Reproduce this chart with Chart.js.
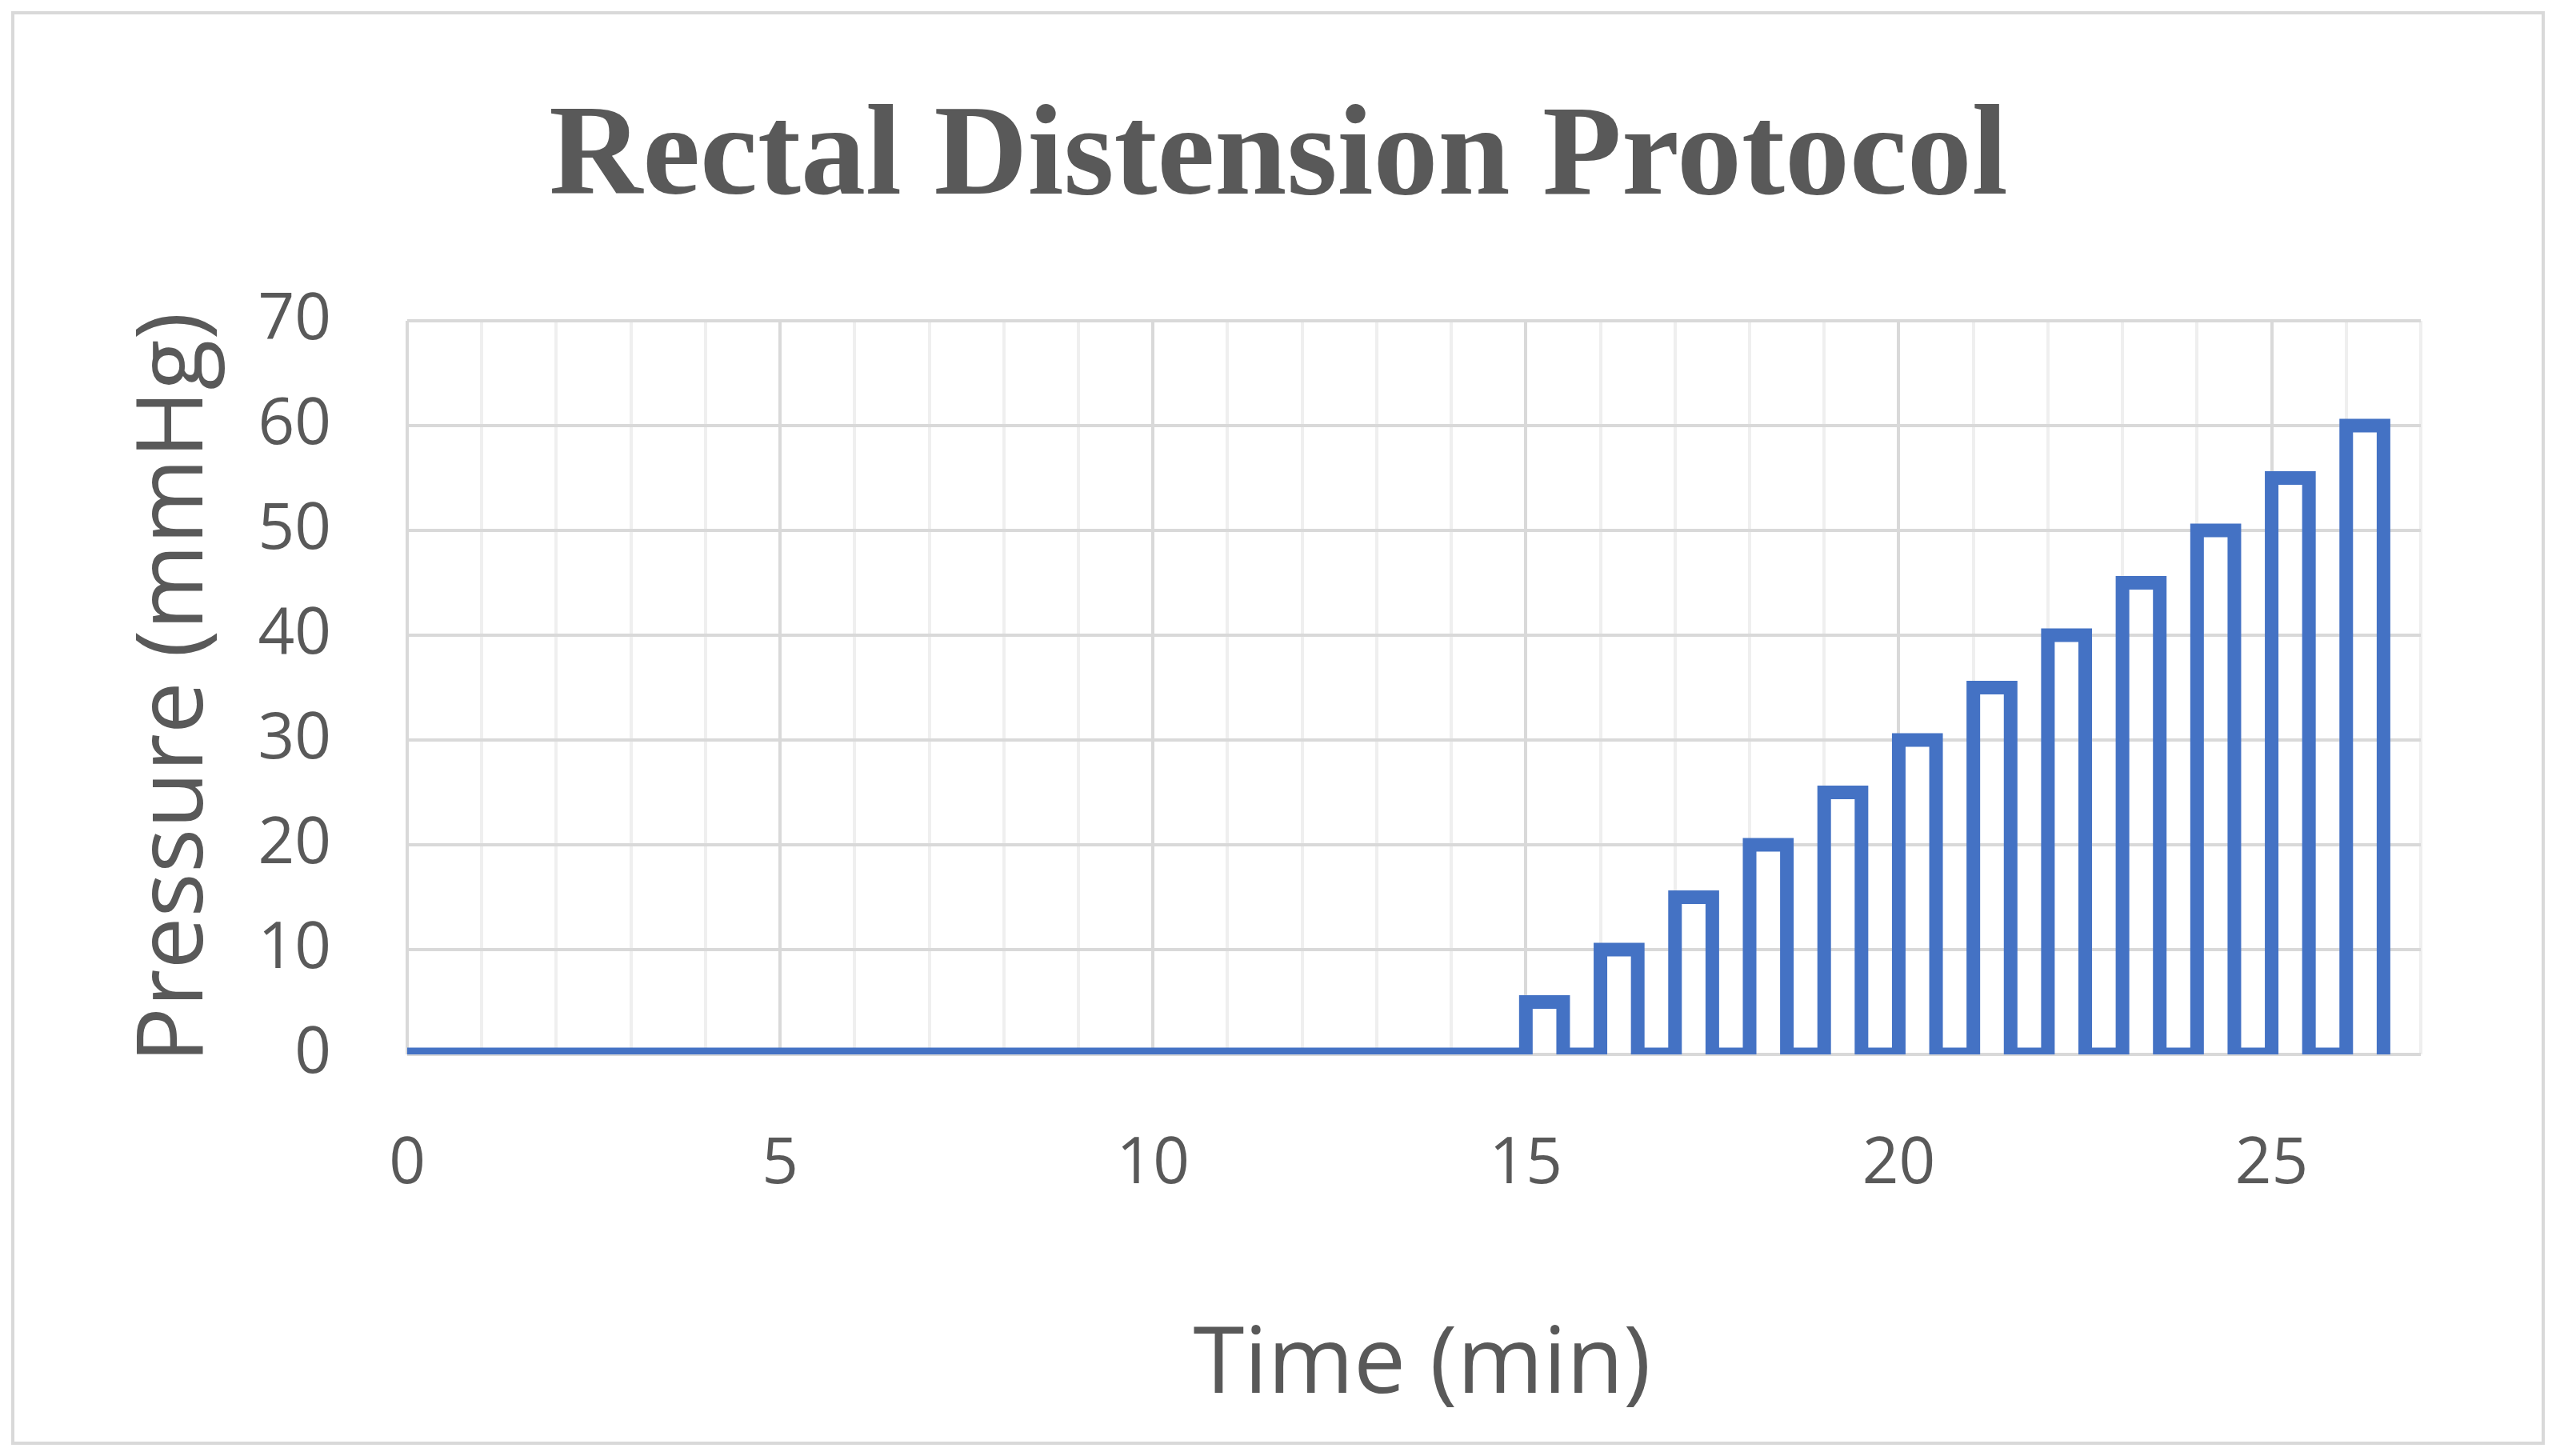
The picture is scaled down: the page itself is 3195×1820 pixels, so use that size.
<!DOCTYPE html>
<html><head><meta charset="utf-8">
<script src="https://cdn.jsdelivr.net/npm/chart.js@4"></script>
<style>html,body{margin:0;padding:0;background:#fff}#c{display:block}</style>
</head><body>
<div style="width:3195px;height:1820px"><canvas id="c"></canvas></div>
<script>
const titleText = "Rectal Distension Protocol";
const xTitle = "Time (min)";
const yTitle = "Pressure (mmHg)";
const times =     [0, 15, 15, 15.5, 15.5, 16, 16, 16.5, 16.5, 17, 17, 17.5, 17.5, 18, 18, 18.5, 18.5, 19, 19, 19.5, 19.5, 20, 20, 20.5, 20.5, 21, 21, 21.5, 21.5, 22, 22, 22.5, 22.5, 23, 23, 23.5, 23.5, 24, 24, 24.5, 24.5, 25, 25, 25.5, 25.5, 26, 26, 26.5, 26.5];
const pressures = [0, 0, 5, 5, 0, 0, 10, 10, 0, 0, 15, 15, 0, 0, 20, 20, 0, 0, 25, 25, 0, 0, 30, 30, 0, 0, 35, 35, 0, 0, 40, 40, 0, 0, 45, 45, 0, 0, 50, 50, 0, 0, 55, 55, 0, 0, 60, 60, 0];
const xTicks = [0, 5, 10, 15, 20, 25];
const yTicks = [0, 10, 20, 30, 40, 50, 60, 70];

const L = 509, R = 3026, T = 401, B = 1318, W = 3195, H = 1820;
const textPlugin = {
  id: 'txt',
  beforeDraw(ch) {
    const c = ch.ctx; c.save();
    c.fillStyle = '#fff'; c.fillRect(0, 0, W, H);
    c.strokeStyle = '#d9d9d9'; c.lineWidth = 4; c.strokeRect(16, 16, W - 32, H - 32);
    c.restore();
  },
  afterDraw(ch) {
    const c = ch.ctx; c.save();
    c.fillStyle = '#595959'; c.textAlign = 'center'; c.textBaseline = 'middle';
    c.font = 'bold 162px "Liberation Serif", serif';
    c.fillText(titleText, 1598, 200);
    c.font = '116px "Open Sans", sans-serif';
    c.fillText(xTitle, (L + R) / 2 + 10, 1708);
    c.translate(220, (T + B) / 2); c.rotate(-Math.PI / 2);
    c.fillText(yTitle, 0, 0);
    c.restore();
  }
};

new Chart(document.getElementById('c'), {
  type: 'line',
  data: { datasets: [{ data: times.map((t, i) => ({ x: t, y: pressures[i] })),
    borderColor: '#4472C4', borderWidth: 17, pointRadius: 0, tension: 0, fill: false,
    borderJoinStyle: 'miter', borderCapStyle: 'butt' }] },
  options: {
    responsive: true, maintainAspectRatio: false, animation: false,
    layout: { padding: { left: 0, right: W - R, top: T, bottom: 0 } },
    plugins: { legend: { display: false }, title: { display: false }, tooltip: { enabled: false } },
    scales: {
      x: { type: 'linear', min: 0, max: 27,
        afterFit: s => { s.height = H - B; },
        afterBuildTicks: s => { s.ticks = Array.from({length: 28}, (_, i) => ({ value: i })); },
        ticks: { padding: 90, color: '#595959', font: { family: '"Open Sans", sans-serif', size: 80 },
          callback: v => xTicks.includes(v) ? String(v) : '' , autoSkip: false, maxRotation: 0 },
        grid: { drawTicks: false, lineWidth: 4, color: ctx => (ctx.tick && ctx.tick.value % 5 === 0) ? '#d9d9d9' : '#efefef' },
        border: { display: false } },
      y: { min: 0, max: 70,
        afterFit: s => { s.width = L; },
        afterBuildTicks: s => { s.ticks = yTicks.map(v => ({ value: v })); },
        ticks: { padding: 95, color: '#595959', font: { family: '"Open Sans", sans-serif', size: 80 } },
        grid: { drawTicks: false, lineWidth: 4, color: '#d9d9d9' },
        border: { display: false } }
    }
  },
  plugins: [textPlugin]
});
</script>
</body></html>
